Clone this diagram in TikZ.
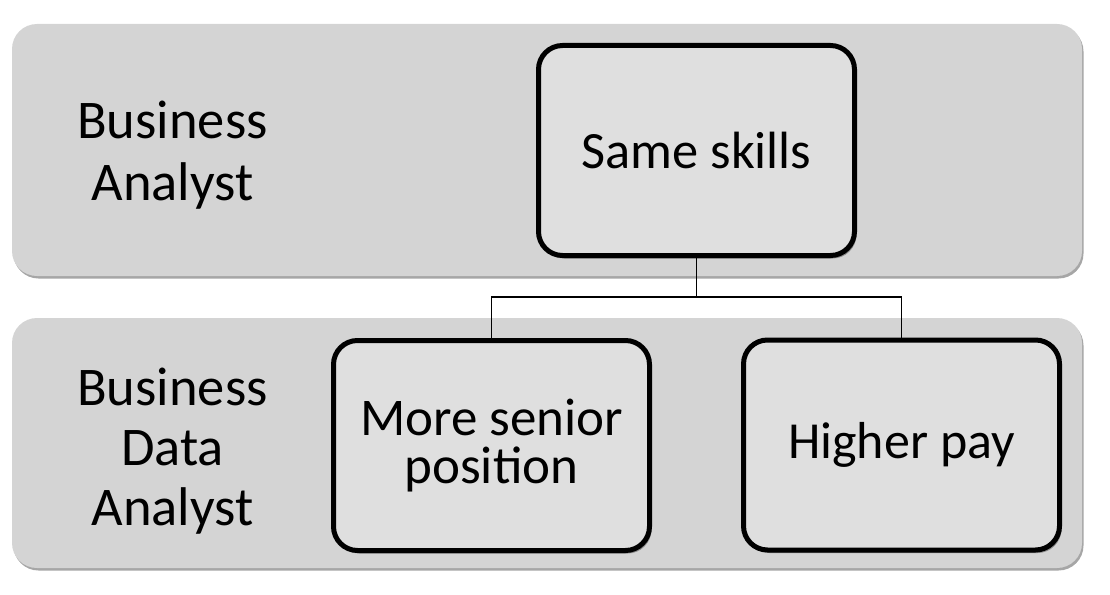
\documentclass[tikz,border=0pt]{standalone}
\usepackage{fontspec}
\setmainfont{Carlito}
\usetikzlibrary{shadows}
\definecolor{bandgray}{RGB}{212,212,212}
\definecolor{boxgray}{RGB}{223,223,223}
\tikzset{
  band/.style={fill=bandgray, rounded corners=25pt, minimum width=1070pt, inner sep=0pt,
    drop shadow={shadow xshift=1.5pt, shadow yshift=-2.5pt, opacity=0.35, fill=black}},
  card/.style={draw=black, line width=5pt, fill=boxgray, rounded corners=24pt,
    minimum width=316pt, minimum height=210pt, inner sep=0pt, align=center,
    drop shadow={shadow xshift=2pt, shadow yshift=-3pt, opacity=0.35, fill=black}},
  label/.style={align=center, inner sep=0pt},
  conn/.style={draw=black, line width=1.5pt}
}
\begin{document}
\begin{tikzpicture}[x=1pt, y=-1pt]
\useasboundingbox (0,0) rectangle (1110,594);
\node[band, minimum height=252pt] (topband) at (547,150) {};
\node[band, minimum height=250pt] (botband) at (547,443) {};
\node[label, font=\fontsize{54.5}{62}\selectfont] (ba) at (172.5,155) {Business\\Analyst};
\node[label, font=\fontsize{54.5}{60}\selectfont] (bda) at (172.5,451) {Business\\Data\\Analyst};
\node[card, font=\fontsize{52.4}{60}\selectfont] (same) at (696.5,150.5) {Same skills};
\node[card, font=\fontsize{53}{48}\selectfont] (senior) at (491.5,445.5) {More senior\\position};
\node[card, font=\fontsize{52}{60}\selectfont] (pay) at (901.5,445) {Higher pay};
\coordinate (j) at (696.5,297);
\draw[conn] (same.south) -- (j);
\draw[conn] (j) -| (senior.north);
\draw[conn] (j) -| (pay.north);
\end{tikzpicture}
\end{document}
